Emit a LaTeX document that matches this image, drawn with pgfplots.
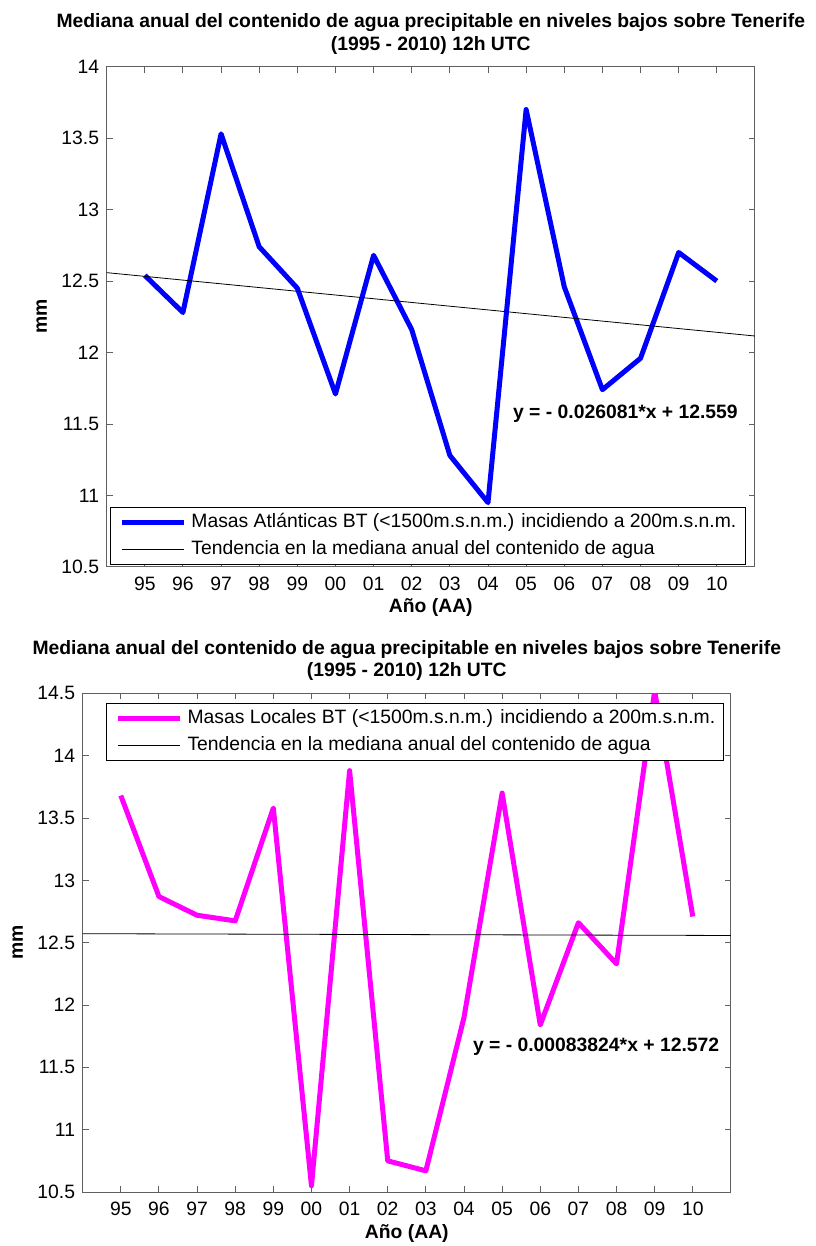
\documentclass[border=0pt]{standalone}
\usepackage{fontspec}
\setmainfont{Liberation Sans}
\usepackage{pgfplots}
\usepackage{pgfplotstable}
\pgfplotsset{compat=1.18}
\definecolor{mblue}{rgb}{0,0,1}
\definecolor{mmagenta}{rgb}{1,0,1}
\newcommand\fs{\fontsize{14.5pt}{17pt}\selectfont}

\pgfplotstableread{
x y
1 12.54
2 12.28
3 13.53
4 12.74
5 12.45
6 11.71
7 12.68
8 12.16
9 11.28
10 10.95
11 13.70
12 12.46
13 11.74
14 11.96
15 12.70
16 12.50
}\topdata

\pgfplotstableread{
x y
0 12.559
17 12.1156
}\toptrend

\pgfplotstableread{
x y
1 13.68
2 12.87
3 12.72
4 12.675
5 13.58
6 10.55
7 13.88
8 10.75
9 10.67
10 11.90
11 13.70
12 11.84
13 12.66
14 12.33
15 14.52
16 12.71
}\botdata

\pgfplotstableread{
x y
0 12.572
17 12.5578
}\bottrend

\begin{document}
\begin{tikzpicture}
\path[use as bounding box] (0,0) rectangle (612pt,-934.5pt);
\pgfplotsset{common/.style={
  scale only axis, width=486.2pt,
  xmin=0, xmax=17, xtick={1,...,16},
  xticklabels={95,96,97,98,99,00,01,02,03,04,05,06,07,08,09,10},
  tick align=inside, major tick length=4.5pt,
  axis line style={gray!75!black, line width=0.75pt},
  every tick/.style={gray!75!black, line width=0.75pt},
  /pgf/number format/assume math mode=true,
  ticklabel style={font=\fs},
  xticklabel style={anchor=north, inner sep=0pt, yshift=-7.3pt},
  yticklabel style={anchor=east, inner sep=0pt, xshift=-5.5pt},
  ytick={10.5,11,...,14.5},
  xlabel={Año (AA)},
  xlabel style={font=\bfseries\fs, at={(axis description cs:0.5,0)}, anchor=base, yshift=-34.5pt},
  ylabel={mm},
  ylabel style={font=\bfseries\fs, at={(axis description cs:-0.0921,0.5)}, anchor=base},
  legend image code/.code={\draw[##1] (0pt,0pt) -- (46.7pt,0pt); \path (50.5pt,0pt);},
  legend cell align=left,
  legend style={font=\fs, draw=black, line width=0.75pt, fill=white,
    inner xsep=6.5pt, inner ysep=1.5pt,
    nodes={inner xsep=0pt, inner ysep=3pt, text height=11pt, text depth=3pt}},
}}
\begin{axis}[common, name=top, at={(80pt,-50pt)}, anchor=north west,
  height=375.2pt, ymin=10.5, ymax=14,
  legend style={at={(0.005,0.004)}, anchor=south west}]
\addplot[mblue, line width=3.75pt, line join=round] table {\topdata};
\addlegendentry{Masas Atlánticas BT (<1500m.s.n.m.) incidiendo a 200m.s.n.m.}
\addplot[black, line width=0.6pt] table {\toptrend};
\addlegendentry{Tendencia en la mediana anual del contenido de agua}
\node[anchor=west, font=\bfseries\fs, inner sep=0pt] at (axis cs:10.65,11.574) {y = - 0.026081*x + 12.559};
\end{axis}
\node[anchor=base, font=\bfseries\fs] at ([yshift=29.4pt]top.north) {Mediana anual del contenido de agua precipitable en niveles bajos sobre Tenerife};
\node[anchor=base, font=\bfseries\fs] at ([yshift=12.5pt]top.north) {(1995 - 2010) 12h UTC};

\begin{axis}[common, name=bot, at={(62pt,-520pt)}, anchor=north west,
  height=374pt, ymin=10.5, ymax=14.5,
  legend style={at={(0.036,0.981)}, anchor=north west}]
\addplot[mmagenta, line width=3.75pt, line join=round] table {\botdata};
\addlegendentry{Masas Locales BT (<1500m.s.n.m.) incidiendo a 200m.s.n.m.}
\addplot[black, line width=0.6pt] table {\bottrend};
\addlegendentry{Tendencia en la mediana anual del contenido de agua}
\node[anchor=west, font=\bfseries\fs, inner sep=0pt] at (axis cs:10.23,11.664) {y = - 0.00083824*x + 12.572};
\end{axis}
\node[anchor=base, font=\bfseries\fs] at ([yshift=29.4pt]bot.north) {Mediana anual del contenido de agua precipitable en niveles bajos sobre Tenerife};
\node[anchor=base, font=\bfseries\fs] at ([yshift=12.5pt]bot.north) {(1995 - 2010) 12h UTC};
\end{tikzpicture}
\end{document}
